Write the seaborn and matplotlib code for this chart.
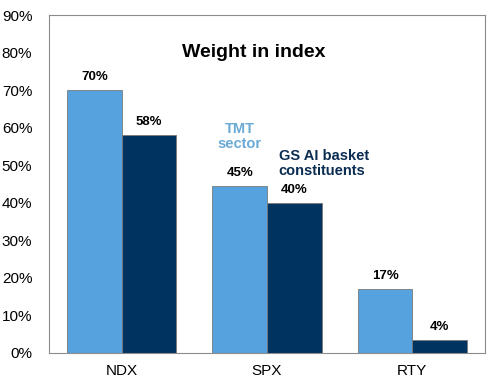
import numpy as np
import pandas as pd
import matplotlib
matplotlib.use("Agg")
import matplotlib.pyplot as plt
import seaborn as sns
from matplotlib.ticker import PercentFormatter

# data
indices = ["NDX", "SPX", "RTY"]
series = ["TMT sector", "GS AI basket constituents"]
tmt_weight = [70, 44.5, 17]
ai_weight = [58, 40, 3.5]
tmt_labels = ["70%", "45%", "17%"]
ai_labels = ["58%", "40%", "4%"]

light, dark = "#55A2DE", "#00335F"

df = pd.DataFrame({
    "index": indices * 2,
    "series": [series[0]] * 3 + [series[1]] * 3,
    "weight": tmt_weight + ai_weight,
})

sns.set_style("white")
plt.rcParams["font.family"] = ["Liberation Sans", "DejaVu Sans"]
plt.rcParams["text.color"] = "black"

fig = plt.figure(figsize=(5, 3.87), dpi=100)
ax = fig.add_axes([0.098, 0.088, 0.872, 0.873])

sns.barplot(data=df, x="index", y="weight", hue="series", hue_order=series,
            palette=[light, dark], saturation=1, width=0.75, gap=0, ax=ax,
            edgecolor="#7a7a7a", linewidth=0.6, legend=False)

for cont, labs in zip(ax.containers, [tmt_labels, ai_labels]):
    ax.bar_label(cont, labels=labs, padding=5, fontsize=9.5,
                 fontweight="bold", color="black")

ax.set_ylim(0, 90)
ax.set_xlim(-0.5, 2.5)
ax.yaxis.set_major_locator(plt.MultipleLocator(10))
ax.yaxis.set_major_formatter(PercentFormatter(decimals=0))
ax.set_xlabel("")
ax.set_ylabel("")
ax.tick_params(axis="both", labelsize=11, length=0, colors="black")
ax.tick_params(axis="y", pad=12)
ax.tick_params(axis="x", pad=8)
for s in ax.spines.values():
    s.set_color("#8c8c8c")
    s.set_linewidth(0.8)

ax.text(0.47, 0.89, "Weight in index", transform=ax.transAxes, ha="center",
        va="center", fontsize=14, fontweight="bold")
ax.text(0.437, 0.64, "TMT\nsector", transform=ax.transAxes, ha="center",
        va="center", fontsize=10.5, fontweight="bold", color="#6AAAD6",
        linespacing=1.1)
ax.text(0.527, 0.56, "GS AI basket\nconstituents", transform=ax.transAxes,
        ha="left", va="center", fontsize=10.5, fontweight="bold",
        color="#0B2D52", linespacing=1.1)

fig.savefig("out.png", dpi=100)
